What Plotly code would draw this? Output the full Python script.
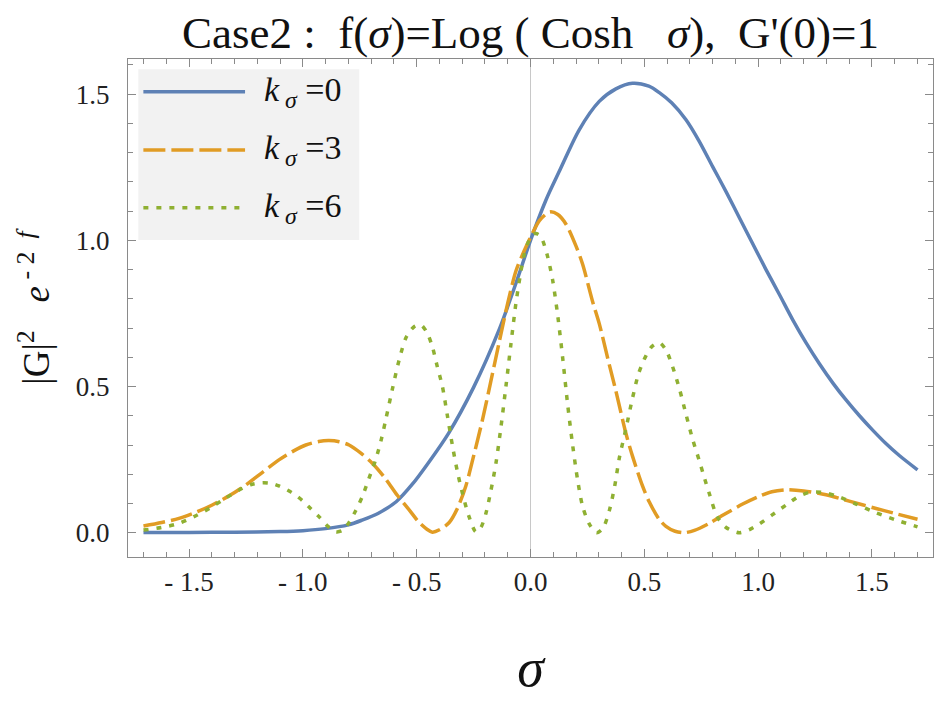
import plotly.graph_objects as go

# ---- data ----
sigma_k0 = [-1.70, -1.50, -1.30, -1.10, -1.00, -0.90, -0.80, -0.74, -0.67, -0.59, -0.52, -0.445,
            -0.36, -0.25, -0.14, -0.064, 0.00, 0.068, 0.126, 0.214, 0.302, 0.375, 0.448, 0.52,
            0.566, 0.62, 0.683, 0.74, 0.80, 0.86, 0.917, 0.975, 1.035, 1.095, 1.152, 1.21,
            1.269, 1.33, 1.386, 1.445, 1.503, 1.56, 1.62, 1.70]
value_k0 = [0.001, 0.001, 0.002, 0.004, 0.007, 0.014, 0.027, 0.043, 0.066, 0.106, 0.165, 0.243,
            0.340, 0.497, 0.690, 0.853, 1.000, 1.138, 1.235, 1.378, 1.475, 1.518, 1.537, 1.527,
            1.505, 1.470, 1.412, 1.340, 1.252, 1.165, 1.078, 0.990, 0.899, 0.812, 0.728, 0.650,
            0.578, 0.510, 0.454, 0.400, 0.351, 0.306, 0.264, 0.215]

sigma_k3 = [-1.70, -1.62, -1.544, -1.47, -1.398, -1.32, -1.251, -1.18, -1.105, -1.04, -0.987,
            -0.93, -0.885, -0.84, -0.797, -0.745, -0.694, -0.64, -0.585, -0.54, -0.489, -0.455,
            -0.431, -0.40, -0.357, -0.32, -0.284, -0.25, -0.211, -0.175, -0.138, -0.10, -0.064,
            -0.03, 0.00, 0.04, 0.085, 0.12, 0.156, 0.20, 0.229, 0.273, 0.302, 0.346, 0.375,
            0.419, 0.448, 0.492, 0.522, 0.566, 0.595, 0.635, 0.675, 0.72, 0.785, 0.85, 0.932,
            1.00, 1.06, 1.123, 1.20, 1.298, 1.40, 1.518, 1.60, 1.70]
value_k3 = [0.023, 0.035, 0.049, 0.070, 0.095, 0.128, 0.163, 0.205, 0.249, 0.280, 0.300,
            0.312, 0.315, 0.311, 0.300, 0.272, 0.237, 0.188, 0.128, 0.085, 0.035, 0.012,
            0.002, 0.010, 0.035, 0.085, 0.160, 0.262, 0.386, 0.515, 0.650, 0.785, 0.895,
            0.960, 1.010, 1.068, 1.097, 1.088, 1.055, 0.980, 0.918, 0.790, 0.715, 0.575, 0.485,
            0.340, 0.262, 0.160, 0.105, 0.045, 0.022, 0.005, 0.000, 0.008, 0.032, 0.062, 0.098,
            0.123, 0.140, 0.147, 0.143, 0.130, 0.108, 0.083, 0.066, 0.046]

sigma_k6 = [-1.70, -1.62, -1.544, -1.47, -1.398, -1.34, -1.28, -1.23, -1.178, -1.14, -1.105,
            -1.05, -1.002, -0.965, -0.929, -0.89, -0.855, -0.825, -0.797, -0.768, -0.738, -0.71,
            -0.68, -0.655, -0.636, -0.607, -0.577, -0.545, -0.51, -0.482, -0.455, -0.431, -0.41,
            -0.387, -0.365, -0.342, -0.32, -0.299, -0.27, -0.24, -0.218, -0.196, -0.175, -0.152,
            -0.13, -0.108, -0.086, -0.064, -0.045, -0.028, -0.006, 0.016, 0.035, 0.053, 0.075,
            0.097, 0.12, 0.141, 0.163, 0.185, 0.207, 0.229, 0.258, 0.29, 0.318, 0.346, 0.37,
            0.39, 0.419, 0.448, 0.475, 0.507, 0.535, 0.566, 0.595, 0.624, 0.655, 0.683, 0.712,
            0.74, 0.765, 0.785, 0.82, 0.859, 0.917, 0.96, 1.005, 1.06, 1.123, 1.18, 1.226,
            1.28, 1.343, 1.43, 1.518, 1.60, 1.70]
value_k6 = [0.009, 0.018, 0.032, 0.058, 0.089, 0.118, 0.146, 0.164, 0.171, 0.169, 0.160,
            0.138, 0.110, 0.082, 0.055, 0.022, 0.003, 0.008, 0.035, 0.075, 0.125, 0.185,
            0.250, 0.320, 0.386, 0.490, 0.591, 0.670, 0.705, 0.711, 0.685, 0.636, 0.570,
            0.500, 0.400, 0.294, 0.205, 0.135, 0.055, 0.003, 0.018, 0.066, 0.140, 0.237,
            0.360, 0.500, 0.645, 0.785, 0.880, 0.950, 1.000, 1.022, 1.020, 1.000, 0.945,
            0.865, 0.740, 0.600, 0.440, 0.300, 0.180, 0.090, 0.030, 0.000, 0.015, 0.075, 0.160,
            0.255, 0.355, 0.460, 0.545, 0.605, 0.638, 0.650, 0.625, 0.568, 0.490, 0.405, 0.320,
            0.250, 0.185, 0.135, 0.055, 0.018, 0.000, 0.010, 0.030, 0.060, 0.095, 0.125, 0.138,
            0.138, 0.126, 0.098, 0.068, 0.045, 0.020]

series_names = ["<i>k</i><sub> <i>σ</i></sub> =0", "<i>k</i><sub> <i>σ</i></sub> =3",
                "<i>k</i><sub> <i>σ</i></sub> =6"]
x_tickvals = [-1.5, -1.0, -0.5, 0.0, 0.5, 1.0, 1.5]
x_ticktext = ["- 1.5", "- 1.0", "- 0.5", "0.0", "0.5", "1.0", "1.5"]
x_minorvals = [-1.7, -1.6, -1.4, -1.3, -1.2, -1.1, -0.9, -0.8, -0.7, -0.6, -0.4, -0.3, -0.2, -0.1,
               0.1, 0.2, 0.3, 0.4, 0.6, 0.7, 0.8, 0.9, 1.1, 1.2, 1.3, 1.4, 1.6, 1.7]
y_tickvals = [0.0, 0.5, 1.0, 1.5]
y_ticktext = ["0.0", "0.5", "1.0", "1.5"]
y_minorvals = [0.1, 0.2, 0.3, 0.4, 0.6, 0.7, 0.8, 0.9, 1.1, 1.2, 1.3, 1.4, 1.6]

# ---- styles ----
colors = ["#5E81B5", "#E19C24", "#8FB032"]
dashes = ["solid", "22px,6px", "5px,8px"]
FONT = "Liberation Serif, Times New Roman, serif"
FRAME = "#8a8a8a"

fig = go.Figure()
for xs, ys, c, d, n in zip([sigma_k0, sigma_k3, sigma_k6], [value_k0, value_k3, value_k6],
                           colors, dashes, series_names):
    fig.add_trace(go.Scatter(x=xs, y=ys, mode="lines", name=n, showlegend=False,
                             line=dict(color=c, width=3.5, dash=d, shape="spline", smoothing=0.8)))

axis_common = dict(
    ticks="inside", ticklen=8, tickwidth=1, tickcolor=FRAME,
    showline=True, linecolor=FRAME, linewidth=1.3, mirror="allticks",
    showgrid=False,
    tickfont=dict(family=FONT, size=27, color="#222"),
)

fig.update_xaxes(range=[-1.768, 1.768], tickmode="array", tickvals=x_tickvals, ticktext=x_ticktext,
                 zeroline=True, zerolinecolor="#c8c8c8", zerolinewidth=1,
                 ticklabelstandoff=0,
                 minor=dict(tickmode="array", tickvals=x_minorvals, ticks="inside", ticklen=4.5,
                            tickwidth=1, tickcolor=FRAME, showgrid=False),
                 title=dict(text="<i>σ</i>", font=dict(family=FONT, size=54, color="#111"),
                            standoff=52),
                 **axis_common)
fig.update_yaxes(range=[-0.083, 1.620], tickmode="array", tickvals=y_tickvals, ticktext=y_ticktext,
                 zeroline=False, ticklabelstandoff=12,
                 minor=dict(tickmode="array", tickvals=y_minorvals, ticks="inside", ticklen=4.5,
                            tickwidth=1, tickcolor=FRAME, showgrid=False),
                 title=dict(text="|G|<sup>2</sup>   <i>e</i><sup> - 2  <i>f</i></sup>",
                            font=dict(family=FONT, size=37, color="#111"), standoff=14),
                 **axis_common)

# ---- legend drawn as a framed key in the upper left ----
legend_top, legend_bottom = 0.9793, 0.6365
rows = [0.9343, 0.8173, 0.7014]
shapes = [dict(type="rect", xref="paper", yref="paper", x0=0.0128, x1=0.2873,
               y0=legend_bottom, y1=legend_top, fillcolor="#f2f2f2", line=dict(width=0), layer="above")]
annotations = []
for r, c, d, n in zip(rows, colors, dashes, series_names):
    shapes.append(dict(type="line", xref="paper", yref="paper", x0=0.0191, x1=0.1454, y0=r, y1=r,
                       line=dict(color=c, width=3.5, dash=d), layer="above"))
    annotations.append(dict(xref="paper", yref="paper", x=0.1665, y=r, xanchor="left", yanchor="middle",
                            text=n, showarrow=False, font=dict(family=FONT, size=34, color="#111")))

fig.update_layout(
    width=938, height=703,
    margin=dict(l=128, r=5, t=59, b=146),
    paper_bgcolor="white", plot_bgcolor="white",
    title=dict(text="Case2 :  f(<i>σ</i>)=Log ( Cosh   <i>σ</i>),  G'(0)=1",
               x=0.5, xref="paper", xanchor="center", y=0.954, yref="container", yanchor="middle",
               font=dict(family=FONT, size=45, color="#111")),
    shapes=shapes, annotations=annotations,
)

fig.write_html("out.html")
